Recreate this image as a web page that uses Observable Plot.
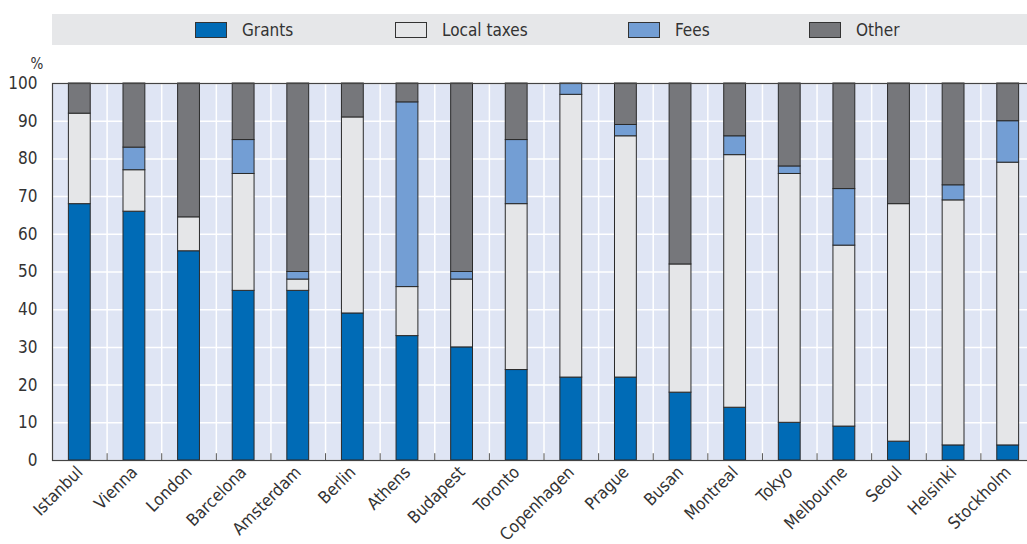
<!DOCTYPE html>
<html><head><meta charset="utf-8">
<script src="https://cdn.jsdelivr.net/npm/d3@7"></script>
<script src="https://cdn.jsdelivr.net/npm/@observablehq/plot@0.6"></script>
<style>
body{margin:0;overflow:hidden;background:#fff;font-family:"DejaVu Sans Condensed","DejaVu Sans",sans-serif;font-stretch:condensed;}
#legend{position:absolute;left:52px;top:14px;width:975px;height:31px;background:#e6e7e9;}
.item{position:absolute;top:0;height:31px;display:flex;align-items:center;font-size:17px;color:#333;white-space:nowrap;}
.sw{width:32px;height:16px;border:1px solid #333;margin-right:15px;box-sizing:border-box;}
#chart{position:absolute;left:0;top:45px;width:1035px;}
#chart svg{max-width:none !important;}
</style></head>
<body>
<div id="legend"></div>
<div id="chart"></div>
<script>
const cities = ["Istanbul","Vienna","London","Barcelona","Amsterdam","Berlin","Athens","Budapest","Toronto","Copenhagen","Prague","Busan","Montreal","Tokyo","Melbourne","Seoul","Helsinki","Stockholm"];
const seriesNames = ["Grants","Local taxes","Fees","Other"];
const grants     = [68,66,55.5,45,45,39,33,30,24,22,22,18,14,10,9,5,4,4];
const localTaxes = [24,11,9,31,3,52,13,18,44,75,64,34,67,66,48,63,65,75];
const fees       = [0,6,0,9,2,0,49,2,17,3,3,0,5,2,15,0,4,11];
const other      = [8,17,35.5,15,50,9,5,50,15,0,11,48,14,22,28,32,27,10];
const yTicks = [0,10,20,30,40,50,60,70,80,90,100];
const colors = ["#006bb6","#e5e6e8","#739ed4","#76777b"];

const seriesValues = [grants, localTaxes, fees, other];
const rows = [];
cities.forEach((c, i) => seriesNames.forEach((s, j) => {
  const v = seriesValues[j][i];
  if (v > 0) rows.push({city: c, series: s, value: v});
}));

// legend
const legendPos = [143, 343, 576, 757];
const leg = document.getElementById("legend");
seriesNames.forEach((s, j) => {
  const d = document.createElement("div");
  d.className = "item";
  d.style.left = legendPos[j] + "px";
  d.innerHTML = `<div class="sw" style="background:${colors[j]}"></div><span>${s}</span>`;
  leg.appendChild(d);
});

const W = 1035, ML = 52, MR = 0;
const step = (W - ML - MR) / cities.length;
const font = '"DejaVu Sans Condensed","DejaVu Sans",sans-serif';

const chart = Plot.plot({
  width: W, height: 499,
  marginLeft: ML, marginRight: MR, marginTop: 38, marginBottom: 84,
  style: {fontFamily: font, fontSize: "17px", color: "#333", background: "transparent", overflow: "visible", fontStretch: "condensed", maxWidth: "none"},
  x: {domain: cities, paddingInner: 0.6, paddingOuter: 0.3, round: false, label: null},
  y: {domain: [0, 100], label: null},
  color: {domain: seriesNames, range: colors},
  marks: [
    Plot.frame({fill: "#dfe5f4", stroke: null}),
    Plot.gridY(yTicks, {stroke: "white", strokeOpacity: 1, strokeWidth: 1.5}),
    Plot.ruleX(cities, {x: d => d, dx: step / 2, stroke: "white", strokeWidth: 1.5}),
    Plot.ruleX(cities, {x: d => d, dx: step / 2, y1: 0, y2: 1.8, stroke: "#555", strokeWidth: 1}),
    Plot.barY(rows, Plot.stackY({order: seriesNames, x: "city", y: "value", fill: "series", stroke: "#2a2a2a", strokeWidth: 1, inset: 0})),
    Plot.frame({stroke: "#444", strokeWidth: 1.2}),
    Plot.axisY(yTicks, {tickSize: 0, tickPadding: 15, label: null, fontSize: 17}),
    Plot.axisX({tickSize: 0, tickPadding: 9, tickRotate: -45, label: null, fontSize: 17}),
    Plot.text(["%"], {frameAnchor: "top-left", dx: -22, dy: -25, fontSize: 15, fill: "#333"})
  ]
});
document.getElementById("chart").appendChild(chart);
</script>
</body></html>
